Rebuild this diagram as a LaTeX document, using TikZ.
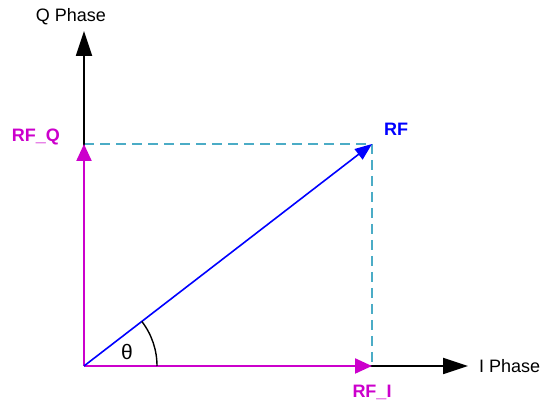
\documentclass[tikz,border=0pt]{standalone}
\usepackage{fontspec}
\setmainfont{Liberation Sans}
\usetikzlibrary{arrows.meta}
\definecolor{rfmag}{RGB}{204,0,204}
\definecolor{rfblue}{RGB}{0,0,255}
\definecolor{rfdash}{RGB}{75,172,198}
\begin{document}
\begin{tikzpicture}[x=1pt, y=1pt, every node/.style={font=\fontsize{18}{21}\selectfont, inner sep=1pt}]
\useasboundingbox (0,0) rectangle (541,404);
\coordinate (O) at (84,38);
\coordinate (Qend) at (84,373);
\coordinate (Iend) at (468,38);
\coordinate (RFQ) at (84,260);
\coordinate (RFI) at (372,38);
\coordinate (RF) at (372,260);
% projections
\draw[rfdash, line width=1.5pt, dash pattern=on 10pt off 6pt] (RFQ) -- (RF) -- (RFI);
% axes
\draw[-{Triangle[length=25pt,width=16pt]}, line width=1.8pt] (O) -- (Qend);
\draw[-{Triangle[length=25pt,width=16pt]}, line width=1.8pt] (O) -- (Iend);
\node (qlabel) at (71,387) {Q Phase};
\node[anchor=west] (ilabel) at (478,38) {I Phase};
% components
\draw[rfmag, -{Triangle[length=17pt,width=15pt]}, line width=2.2pt] (O) -- (RFQ);
\draw[rfmag, -{Triangle[length=17pt,width=15pt]}, line width=2.2pt] (O) -- (RFI);
\node[rfmag, font=\fontsize{18}{21}\selectfont\bfseries] (rfqlabel) at (36,267) {RF\_Q};
\node[rfmag, font=\fontsize{18}{21}\selectfont\bfseries] (rfilabel) at (372,12) {RF\_I};
% RF vector
\draw[rfblue, -{Triangle[length=17pt,width=13pt]}, line width=1.6pt] (O) -- (RF);
\node[rfblue, font=\fontsize{18}{21}\selectfont\bfseries] (rflabel) at (396,275) {RF};
% angle
\draw[line width=1.4pt] ([shift={(73,0)}]O) arc[start angle=0, end angle=37.6, radius=73];
\node[font=\fontsize{21}{24}\selectfont] (theta) at (127,52) {θ};
\end{tikzpicture}
\end{document}
